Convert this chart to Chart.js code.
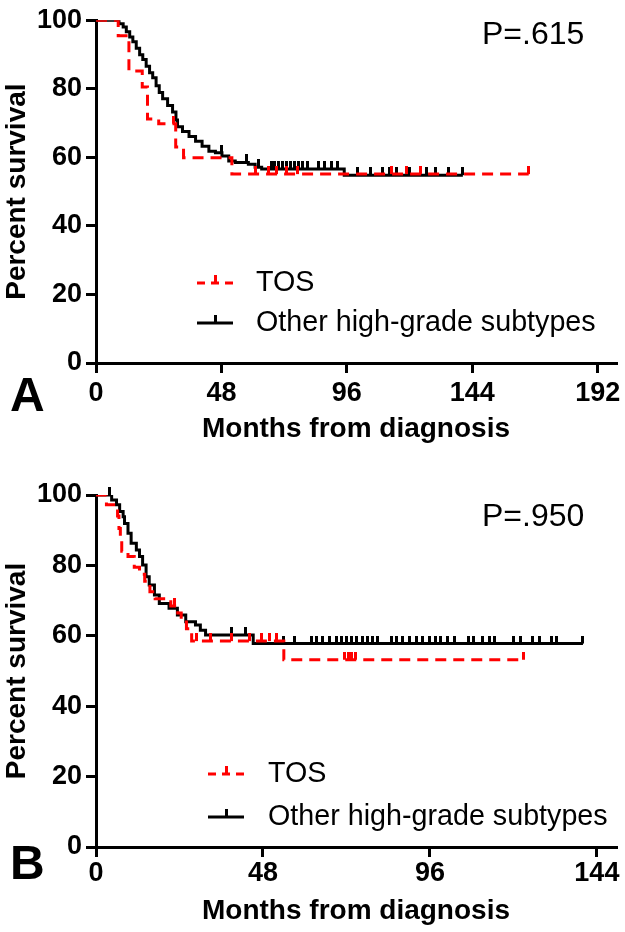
<!DOCTYPE html>
<html>
<head>
<meta charset="utf-8">
<script src="https://cdn.jsdelivr.net/npm/chart.js@4.4.1/dist/chart.umd.min.js"></script>
<style>
  html, body { margin: 0; padding: 0; background: #fff; }
  #wrap { position: relative; width: 625px; height: 932px; }
  .panel { position: absolute; left: 0; width: 625px; }
  #panelA { top: 0; height: 470px; }
  #panelB { top: 470px; height: 462px; }
</style>
</head>
<body>
<div id="wrap">
  <div class="panel" id="panelA"><canvas id="chartA" width="625" height="470"></canvas></div>
  <div class="panel" id="panelB"><canvas id="chartB" width="625" height="462"></canvas></div>
</div>
<script>
// Kaplan-Meier curves (months, percent survival)
const X_TICKS_A = [0, 48, 96, 144, 192];
const X_TICKS_B = [0, 48, 96, 144];
const Y_TICKS = [0, 20, 40, 60, 80, 100];

// Panel A
const tosMonthsA = [0, 8.5, 12.6, 17.7, 19.7, 24, 30.5, 33.5, 52, 165.6];
const tosSurvA = [100, 95.5, 85.2, 80.5, 71.2, 69.8, 63, 59.9, 55.1, 55.1];
const tosCensorA = [29.5, 61, 66, 69, 73, 77, 113, 119, 124, 165.6];

const otherMonthsA = [0, 8.8, 10.4, 11.6, 12.9, 14.1, 15.4, 16.7, 17.9, 19.2, 20.5, 21.7, 23, 24.2, 25.5, 27.4,
  29.3, 30.6, 31.2, 33.1, 35.6, 38.1, 40.6, 43.2, 45.7, 48.2, 50.8, 53.3, 58.3, 60.9, 63.4, 95, 140.4];
const otherSurvA = [100, 99, 98, 96.6, 95.1, 93.7, 91.8, 89.9, 88.5, 86.6, 84.7, 83.2, 80.9, 78.9, 77.1, 75.1,
  73.2, 70.9, 68.9, 67.5, 66.1, 64.7, 63.2, 61.8, 61.3, 60.4, 58.9, 58.5, 58, 57.1, 56.6, 54.8, 54.8];
const otherCensorA = [48, 57.6, 62, 67, 68.5, 70, 71.5, 73, 74.5, 76, 77.5, 79, 81, 85, 87.5, 90, 92.5,
  100, 105, 109.5, 112.5, 115, 120, 126.5, 130, 135, 140.4];

// Panel B
const tosMonthsB = [0, 3, 6.2, 6.6, 7, 7.4, 9.2, 11, 12.5, 14, 15.5, 17, 21.5, 23.5, 24.5, 26, 27.5, 54, 123];
const tosSurvB = [100, 97.2, 94, 90.5, 87, 84, 82.5, 79.5, 77.5, 75.5, 72.5, 70.5, 68.5, 66.5, 64.5, 62, 58.5, 53.2, 53.2];
const tosCensorB = [22.5, 29, 33, 39, 44, 47.5, 50, 52, 71.5, 72.5, 73.5, 74.5, 123];

const otherMonthsB = [0, 4.5, 5.9, 6.8, 7.8, 8.2, 9.2, 10.1, 11.6, 12.5, 13.4, 14.4, 15.3, 16.8, 18.2, 21,
  23.4, 25.8, 28.6, 30, 31.5, 45.2, 140];
const otherSurvB = [100, 98.6, 97.2, 95.3, 93.8, 91.9, 89.1, 86.3, 84.4, 82.5, 80.1, 76.8, 74.4, 71.6, 69.2, 67.8,
  65.9, 64, 63.1, 61.6, 60.2, 57.8, 57.8];
const otherCensorB = [4, 39, 43, 54, 57, 62, 63.5, 65, 67, 69, 70.5, 72, 73.5, 75, 76.5, 78, 79.5, 81, 85, 86.5,
  88, 90, 92, 94, 96, 97.5, 99, 101, 103, 107, 108.5, 111, 113, 114.5, 120, 122, 125.5, 127.5, 131, 132.5, 140];

const P_TEXT_A = 'P=.615';
const P_TEXT_B = 'P=.950';
const LABEL_TOS = 'TOS';
const LABEL_OTHER = 'Other high-grade subtypes';

(function() {
  'use strict';

  const FONT = '"Liberation Sans", Arial, Helvetica, sans-serif';
  const RED = '#ff0000';
  const BLACK = '#000000';

  function stepPoints(months, surv) {
    return months.map((m, i) => ({ x: m, y: surv[i] }));
  }

  // survival value of a step curve at time t
  function survAt(months, surv, t) {
    let s = surv[0];
    for (let i = 0; i < months.length; i++) {
      if (months[i] <= t) s = surv[i];
    }
    return s;
  }

  // censor mark: short vertical tick pointing up from the curve
  function tickMark(color) {
    const c = document.createElement('canvas');
    c.width = 3;
    c.height = 16;
    const g = c.getContext('2d');
    g.fillStyle = color;
    g.fillRect(0, 0, 3, 8);
    return c;
  }

  const annotate = {
    id: 'annotate',
    afterDraw(chart, args, o) {
      const ctx = chart.ctx;
      ctx.save();
      ctx.fillStyle = BLACK;
      ctx.textAlign = 'left';
      ctx.textBaseline = 'middle';

      ctx.font = 'bold 48px ' + FONT;
      ctx.fillText(o.letter, o.letterX, o.letterY);

      ctx.font = '32px ' + FONT;
      ctx.fillText(o.pText, o.pX, o.pY);

      // legend: short sample of the line with a censor tick in the middle
      ctx.font = '28.7px ' + FONT;
      o.legend.forEach((item, i) => {
        const ds = chart.data.datasets[item.dataset];
        const y = o.legendY[i];
        ctx.strokeStyle = ds.borderColor;
        ctx.lineWidth = ds.borderWidth;
        ctx.setLineDash(ds.borderDash ? [8, 6] : []);
        ctx.beginPath();
        ctx.moveTo(o.sampleX0, y);
        ctx.lineTo(o.sampleX1, y);
        ctx.stroke();
        ctx.setLineDash([]);
        ctx.fillStyle = ds.borderColor;
        const cx = Math.round((o.sampleX0 + o.sampleX1) / 2);
        ctx.fillRect(cx - 1, y - 8, 3, 8);
        ctx.fillStyle = BLACK;
        ctx.fillText(item.text, o.textX, y);
      });
      ctx.restore();
    }
  };

  function makeChart(id, cfg) {
    const tickFont = { family: FONT, size: 27, weight: 'bold' };
    const titleFont = { family: FONT, size: 28, weight: 'bold' };

    return new Chart(document.getElementById(id), {
      type: 'line',
      data: {
        datasets: [
          {
            label: LABEL_TOS,
            data: stepPoints(cfg.tosMonths, cfg.tosSurv),
            stepped: true,
            borderColor: RED,
            borderWidth: 3,
            borderDash: [11, 7],
            pointRadius: 0,
            fill: false
          },
          {
            label: LABEL_TOS + ' censored',
            data: cfg.tosCensor.map(t => ({ x: t, y: survAt(cfg.tosMonths, cfg.tosSurv, t) })),
            showLine: false,
            pointStyle: tickMark(RED),
            pointRadius: 8,
            clip: false
          },
          {
            label: LABEL_OTHER,
            data: stepPoints(cfg.otherMonths, cfg.otherSurv),
            stepped: true,
            borderColor: BLACK,
            borderWidth: 3,
            pointRadius: 0,
            fill: false
          },
          {
            label: LABEL_OTHER + ' censored',
            data: cfg.otherCensor.map(t => ({ x: t, y: survAt(cfg.otherMonths, cfg.otherSurv, t) })),
            showLine: false,
            pointStyle: tickMark(BLACK),
            pointRadius: 8,
            clip: false
          }
        ]
      },
      options: {
        responsive: false,
        animation: false,
        devicePixelRatio: 1,
        layout: { padding: { top: cfg.padTop, right: 3, left: 0, bottom: 0 } },
        plugins: {
          legend: { display: false },
          tooltip: { enabled: false },
          annotate: cfg.annotate
        },
        scales: {
          x: {
            type: 'linear',
            min: 0,
            max: cfg.xMax,
            afterBuildTicks: s => { s.ticks = cfg.xTicks.map(v => ({ value: v })); },
            afterFit: s => { s.height = cfg.xHeight; s.paddingLeft = 0; s.paddingRight = 0; },
            grid: { drawOnChartArea: false, color: BLACK, lineWidth: 3, tickLength: 10 },
            border: { color: BLACK, width: 3 },
            ticks: { color: BLACK, font: tickFont, padding: cfg.xTickPad, maxRotation: 0, autoSkip: false },
            title: {
              display: true,
              text: 'Months from diagnosis',
              color: BLACK,
              font: titleFont,
              padding: { top: 0, bottom: cfg.xTitlePad }
            }
          },
          y: {
            min: 0,
            max: 100,
            afterBuildTicks: s => { s.ticks = Y_TICKS.map(v => ({ value: v })); },
            afterFit: s => { s.width = 96; },
            grid: { drawOnChartArea: false, color: BLACK, lineWidth: 3, tickLength: 10 },
            border: { color: BLACK, width: 3 },
            ticks: { color: BLACK, font: tickFont, padding: 4 },
            title: {
              display: true,
              text: 'Percent survival',
              color: BLACK,
              font: titleFont,
              padding: 0
            }
          }
        }
      },
      plugins: [annotate]
    });
  }

  makeChart('chartA', {
    tosMonths: tosMonthsA, tosSurv: tosSurvA, tosCensor: tosCensorA,
    otherMonths: otherMonthsA, otherSurv: otherSurvA, otherCensor: otherCensorA,
    xTicks: X_TICKS_A, xMax: 199, padTop: 13, xHeight: 107, xTickPad: 4, xTitlePad: 24,
    annotate: {
      letter: 'A', letterX: 10, letterY: 398,
      pText: P_TEXT_A, pX: 482, pY: 35,
      legend: [{ dataset: 0, text: LABEL_TOS }, { dataset: 2, text: LABEL_OTHER }],
      legendY: [283, 323], sampleX0: 197, sampleX1: 233, textX: 256
    }
  });

  makeChart('chartB', {
    tosMonths: tosMonthsB, tosSurv: tosSurvB, tosCensor: tosCensorB,
    otherMonths: otherMonthsB, otherSurv: otherSurvB, otherCensor: otherCensorB,
    xTicks: X_TICKS_B, xMax: 149.5, padTop: 25, xHeight: 85, xTickPad: 0, xTitlePad: 4,
    annotate: {
      letter: 'B', letterX: 10, letterY: 396,
      pText: P_TEXT_B, pX: 482, pY: 47,
      legend: [{ dataset: 0, text: LABEL_TOS }, { dataset: 2, text: LABEL_OTHER }],
      legendY: [304, 347], sampleX0: 208, sampleX1: 244, textX: 268
    }
  });
})();
</script>
</body>
</html>
